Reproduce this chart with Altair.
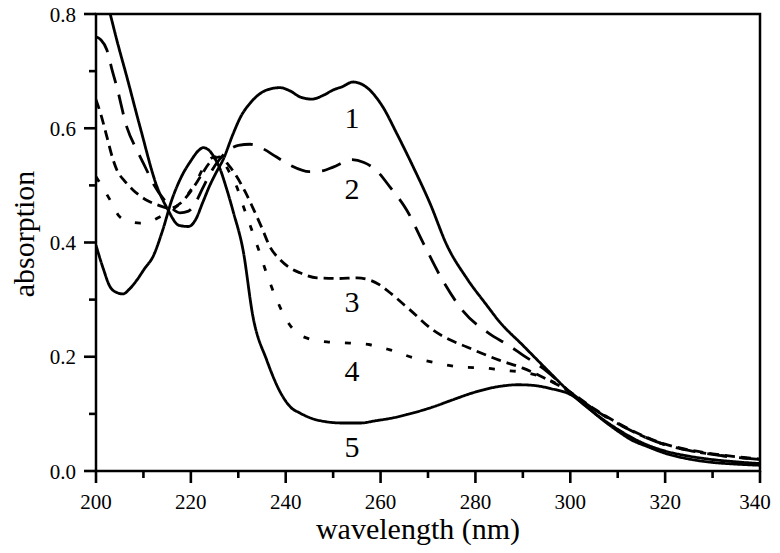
import altair as alt
import pandas as pd

# ---- data ----
wl1 = [200, 201.5, 203, 204.4, 206.5, 209.3, 212.9, 215, 217.5, 219.5, 221, 222.5, 224, 225.5, 226.8,
       228.9, 230.5, 232.5, 234.5, 236, 238.8, 241, 243, 245.5, 248, 250, 252, 254.2, 255.5, 257,
       258.8, 260.5, 263.4, 266.9, 270.4, 274, 278.2, 282.4, 285, 290, 295, 300, 305, 310, 315,
       320, 325, 330, 335, 340]
ab1 = [0.90, 0.85, 0.80, 0.754, 0.69, 0.602, 0.497, 0.46, 0.43, 0.428, 0.44, 0.47, 0.50, 0.525, 0.545,
       0.59, 0.62, 0.644, 0.66, 0.667, 0.671, 0.665, 0.655, 0.651, 0.658, 0.667, 0.673, 0.681, 0.679, 0.672,
       0.657, 0.637, 0.591, 0.532, 0.469, 0.395, 0.337, 0.29, 0.262, 0.22, 0.178, 0.137, 0.102, 0.073, 0.05,
       0.035, 0.026, 0.02, 0.016, 0.013]

wl2 = [200, 201, 202.3, 203.3, 204.4, 206.5, 208.6, 210.5, 212, 215, 217.7, 219.5, 221, 222.5, 224,
       226, 228, 230, 232.5, 235, 238, 241, 245, 248, 250, 254, 256.5, 259, 262, 265.5, 269, 273,
       277.4, 283, 286.6, 290, 295, 300, 305, 310, 315, 320, 325, 330, 335, 340]
ab2 = [0.76, 0.755, 0.737, 0.705, 0.672, 0.602, 0.562, 0.53, 0.504, 0.469, 0.452, 0.455, 0.47, 0.495, 0.52,
       0.545, 0.562, 0.57, 0.572, 0.565, 0.55, 0.535, 0.524, 0.526, 0.532, 0.545, 0.54, 0.527, 0.497, 0.457,
       0.399, 0.335, 0.28, 0.24, 0.222, 0.203, 0.175, 0.138, 0.108, 0.083, 0.062, 0.046, 0.036, 0.029, 0.024, 0.02]

wl3 = [200, 201, 202.3, 203.6, 204.4, 206, 207.8, 210.7, 212.9, 215.5, 218, 220, 222, 224, 226, 228,
       229.7, 231.5, 233, 235, 236.7, 238.8, 241, 243, 246.6, 251, 255, 257.8, 260, 262, 266.2, 271,
       274.5, 278.2, 285, 290, 294, 300, 305, 310, 315, 320, 325, 330, 335, 340]
ab3 = [0.65, 0.625, 0.585, 0.545, 0.527, 0.508, 0.492, 0.474, 0.466, 0.46, 0.47, 0.49, 0.515, 0.54, 0.55,
       0.535, 0.515, 0.488, 0.462, 0.425, 0.392, 0.37, 0.355, 0.347, 0.338, 0.337, 0.338, 0.334, 0.325, 0.312,
       0.282, 0.247, 0.23, 0.217, 0.194, 0.18, 0.165, 0.138, 0.109, 0.084, 0.063, 0.047, 0.037, 0.03, 0.025, 0.021]

wl4 = [200, 201.5, 203, 205, 207, 209.3, 211.5, 213.5, 216, 218.5, 221, 223, 225, 226.5, 228, 229.7,
       231, 232.5, 234.6, 236, 238.1, 240.2, 243.7, 248.7, 253.5, 257.8, 262, 267, 271.9, 276.7, 282.4,
       285, 290.8, 295.7, 300, 305, 310, 315, 320, 325, 330, 335, 340]
ab4 = [0.515, 0.495, 0.474, 0.445, 0.437, 0.434, 0.437, 0.445, 0.457, 0.475, 0.505, 0.535, 0.55, 0.545,
       0.525, 0.497, 0.465, 0.43, 0.38, 0.345, 0.3, 0.264, 0.235, 0.226, 0.224, 0.221, 0.212, 0.198, 0.189,
       0.182, 0.18, 0.177, 0.172, 0.159, 0.137, 0.108, 0.083, 0.062, 0.046, 0.036, 0.029, 0.024, 0.02]

wl5 = [200, 201.5, 203, 204.5, 205.7, 207, 208.6, 210.3, 212, 214, 216, 218, 220, 221.5, 222.6, 224,
       225, 226, 227.5, 229, 231, 233.1, 236, 239.4, 241, 243, 245.5, 248.7, 252, 255.7, 259, 262.6, 267,
       271, 275, 279.5, 285, 289, 292, 296, 300, 303, 306, 310, 313, 316.5, 320, 325, 330, 335, 340]
ab5 = [0.395, 0.355, 0.322, 0.312, 0.31, 0.318, 0.334, 0.355, 0.375, 0.42, 0.475, 0.515, 0.543, 0.56,
       0.566, 0.56, 0.548, 0.532, 0.495, 0.452, 0.387, 0.27, 0.194, 0.13, 0.112, 0.1015, 0.092, 0.086,
       0.084, 0.084, 0.088, 0.093, 0.102, 0.112, 0.124, 0.137, 0.148, 0.151, 0.15, 0.144, 0.134, 0.116,
       0.095, 0.07, 0.054, 0.042, 0.031, 0.021, 0.015, 0.012, 0.01]

curve_names = ["1", "2", "3", "4", "5"]
curve_dash = [[1, 0], [20, 12], [10, 6], [6, 15], [1, 0]]

label_text = ["1", "2", "3", "4", "5"]
label_wl = [254, 254, 254, 254, 254]
label_ab = [0.617, 0.492, 0.294, 0.173, 0.040]

x_major = [200, 220, 240, 260, 280, 300, 320, 340]
x_major_labels = ["200", "220", "240", "260", "280", "300", "320", "340"]
x_minor = [210, 230, 250, 270, 290, 310, 330]
y_major = [0.0, 0.2, 0.4, 0.6, 0.8]
y_major_labels = ["0.0", "0.2", "0.4", "0.6", "0.8"]
y_minor = [0.1, 0.3, 0.5, 0.7]

x_title = "wavelength (nm)"
y_title = "absorption"

rows = []
for name, wl, ab in zip(curve_names, [wl1, wl2, wl3, wl4, wl5], [ab1, ab2, ab3, ab4, ab5]):
    for i, (w, a) in enumerate(zip(wl, ab)):
        rows.append({"curve": name, "wavelength": w, "absorption": a, "idx": i})
df = pd.DataFrame(rows)
labels = pd.DataFrame({"text": label_text, "wavelength": label_wl, "absorption": label_ab})
xmaj_df = pd.DataFrame({"wavelength": x_major, "label": x_major_labels})
xmin_df = pd.DataFrame({"wavelength": x_minor})
ymaj_df = pd.DataFrame({"absorption": y_major, "label": y_major_labels})
ymin_df = pd.DataFrame({"absorption": y_minor})

FONT = "Liberation Serif"
W, H = 664, 457
MAJOR, MINOR = 12, 7
TICK_W = 2.6
TICK_FS = 21

x_scale = alt.Scale(domain=[200, 340], nice=False, zero=False)
y_scale = alt.Scale(domain=[0, 0.8], nice=False)


def X():
    return alt.X("wavelength:Q", scale=x_scale, axis=None)


def Y():
    return alt.Y("absorption:Q", scale=y_scale, axis=None)


lines = alt.Chart(df).mark_line(clip=True, strokeWidth=2.8, color="black", interpolate="monotone",
                                strokeCap="butt").encode(
    x=X(), y=Y(),
    detail="curve:N",
    order="idx:Q",
    strokeDash=alt.StrokeDash("curve:N", scale=alt.Scale(domain=curve_names, range=curve_dash), legend=None),
)

# axis ticks (positions through the scales), drawn as tick marks
x_major_ticks = alt.Chart(xmaj_df).mark_tick(color="black", thickness=TICK_W, size=MAJOR,
                                             orient="vertical", opacity=1).encode(
    x=X(), y=alt.value(H + MAJOR / 2))
x_minor_ticks = alt.Chart(xmin_df).mark_tick(color="black", thickness=TICK_W, size=MINOR,
                                             orient="vertical", opacity=1).encode(
    x=X(), y=alt.value(H + MINOR / 2))
y_major_ticks = alt.Chart(ymaj_df).mark_tick(color="black", thickness=TICK_W, size=MAJOR,
                                             orient="horizontal", opacity=1).encode(
    y=Y(), x=alt.value(-MAJOR / 2))
y_minor_ticks = alt.Chart(ymin_df).mark_tick(color="black", thickness=TICK_W, size=MINOR,
                                             orient="horizontal", opacity=1).encode(
    y=Y(), x=alt.value(-MINOR / 2))

# tick labels (the last x label is nudged left so it stays inside the page)
x_tick_labels = alt.Chart(xmaj_df.iloc[:-1]).mark_text(font=FONT, fontSize=TICK_FS, color="black",
                                                        align="center", baseline="alphabetic").encode(
    x=X(), y=alt.value(H + 38), text="label:N")
x_last_label = alt.Chart(xmaj_df.iloc[-1:]).mark_text(font=FONT, fontSize=TICK_FS, color="black",
                                                       align="center", baseline="alphabetic", dx=-5).encode(
    x=X(), y=alt.value(H + 38), text="label:N")
y_tick_labels = alt.Chart(ymaj_df).mark_text(font=FONT, fontSize=TICK_FS, color="black",
                                              align="right", baseline="middle", dy=1.5).encode(
    y=Y(), x=alt.value(-20), text="label:N")

# axis titles
x_title_mark = alt.Chart(pd.DataFrame({"t": [x_title]})).mark_text(
    font=FONT, fontSize=30, color="black", align="center", baseline="alphabetic").encode(
    x=alt.value(322), y=alt.value(H + 68), text="t:N")
y_title_mark = alt.Chart(pd.DataFrame({"t": [y_title]})).mark_text(
    font=FONT, fontSize=30, color="black", align="center", baseline="alphabetic", angle=270).encode(
    x=alt.value(-62), y=alt.value(220), text="t:N")

texts = alt.Chart(labels).mark_text(font=FONT, fontSize=30, color="black", baseline="middle",
                                    align="center").encode(
    x=X(), y=Y(), text="text:N")

chart = alt.layer(
    lines, x_tick_labels, x_last_label, y_tick_labels, x_title_mark, y_title_mark, texts,
    x_major_ticks, x_minor_ticks, y_major_ticks, y_minor_ticks,
).properties(
    width=W, height=H,
    autosize=alt.AutoSizeParams(type="none"),
    padding={"left": 88, "top": 6, "right": 12, "bottom": 74},
    background="white",
).configure_view(
    stroke="black", strokeWidth=2.5
)

chart.save("out.html", embed_options={"renderer": "svg", "actions": False})
